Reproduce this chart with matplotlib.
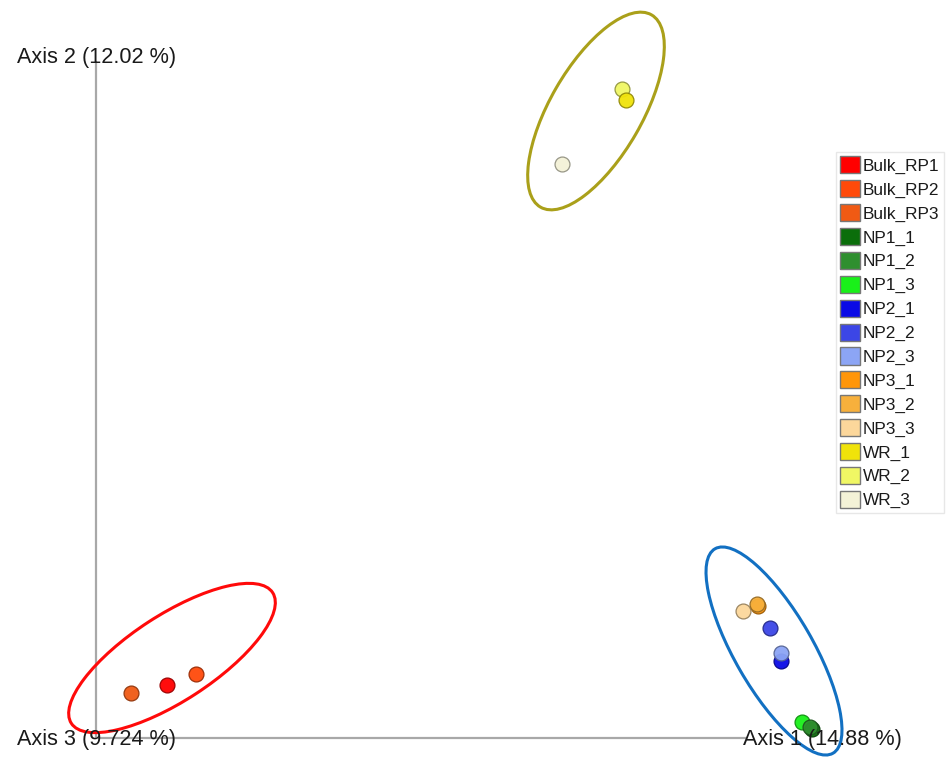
import matplotlib.pyplot as plt
import matplotlib.colors as mcolors
from matplotlib.patches import Ellipse, Patch

plt.rcParams["font.family"] = ["Liberation Sans", "DejaVu Sans"]

# ============================================================
# Sample scores (screen projection of the PCoA, y pointing up)
# ============================================================
samples = ["Bulk_RP1", "Bulk_RP2", "Bulk_RP3",
           "NP1_1", "NP1_2", "NP1_3",
           "NP2_1", "NP2_2", "NP2_3",
           "NP3_1", "NP3_2", "NP3_3",
           "WR_1", "WR_2", "WR_3"]
colors = ["#ff0000", "#ff4a0a", "#f05a14",
          "#0b6e0b", "#2f8f2f", "#19f019",
          "#0a0ae6", "#3c46e6", "#8ca5f5",
          "#ff960a", "#f7b03c", "#fcd79b",
          "#f0e30a", "#f0f764", "#f4f2d7"]
score_x = [167, 196, 131,
           812, 810, 802,
           781, 770, 781,
           758, 757, 743,
           626, 622, 562]
score_y = [73, 84, 65,
           29, 31, 36,
           97, 130, 105,
           152, 154, 147,
           658, 669, 594]
# order in which points are drawn (later ones sit on top)
draw_order = [2, 0, 1, 11, 9, 10, 7, 6, 8, 5, 3, 4, 13, 12, 14]

# group ellipses: centre x, centre y, width, height, angle, colour
ell_x = [172, 774, 596]
ell_y = [100, 107, 647]
ell_w = [240, 236, 222]
ell_h = [86, 78, 92]
ell_angle = [33, -60, 60]
ell_color = ["#ff0a0a", "#1270c2", "#aaa01a"]

axis_labels = ["Axis 1 (14.88 %)", "Axis 2 (12.02 %)", "Axis 3 (9.724 %)"]

AXIS_GRAY = "#a8a8a8"
TEXT_COLOR = "#1a1a1a"


def darker(c, f=0.6):
    r, g, b = mcolors.to_rgb(c)
    return (r * f, g * f, b * f)


fig = plt.figure(figsize=(9.46, 7.58), dpi=100)
ax = fig.add_axes([0, 0, 1, 1])
ax.set_xlim(0, 946)
ax.set_ylim(0, 758)
ax.axis("off")

# axis lines
ax.plot([96, 745], [20, 20], color=AXIS_GRAY, linewidth=1.6, zorder=1)
ax.plot([96, 96], [20, 696], color=AXIS_GRAY, linewidth=1.6, zorder=1)

ax.text(743, 19, axis_labels[0], fontsize=15.6, color=TEXT_COLOR, va="center", ha="left", zorder=6)
ax.text(17, 700, axis_labels[1], fontsize=15.6, color=TEXT_COLOR, va="center", ha="left", zorder=6)
ax.text(17, 19, axis_labels[2], fontsize=15.6, color=TEXT_COLOR, va="center", ha="left", zorder=6)

# sample points
for i in draw_order:
    ax.scatter(score_x[i], score_y[i], s=115, color=colors[i],
               edgecolors=[darker(colors[i])], linewidths=0.9, alpha=0.95, zorder=3)

# group ellipses
for cx, cy, w, h, a, c in zip(ell_x, ell_y, ell_w, ell_h, ell_angle, ell_color):
    ax.add_patch(Ellipse((cx, cy), w, h, angle=a, fill=False,
                         edgecolor=c, linewidth=2.2, zorder=4))

# legend
handles = [Patch(facecolor=c, edgecolor="#777777", linewidth=1.0, label=s)
           for s, c in zip(samples, colors)]
leg = ax.legend(handles=handles, loc="upper left", bbox_to_anchor=(836 / 946, 1 - 152 / 758),
                fontsize=12.4, frameon=True, fancybox=False, handlelength=1.15,
                handleheight=1.15, handletextpad=0.15, labelspacing=0.37,
                borderpad=0.25, borderaxespad=0, labelcolor=TEXT_COLOR)
leg.get_frame().set_edgecolor("#e2e2e2")
leg.get_frame().set_linewidth(1.0)

fig.savefig("out.png", dpi=100)
